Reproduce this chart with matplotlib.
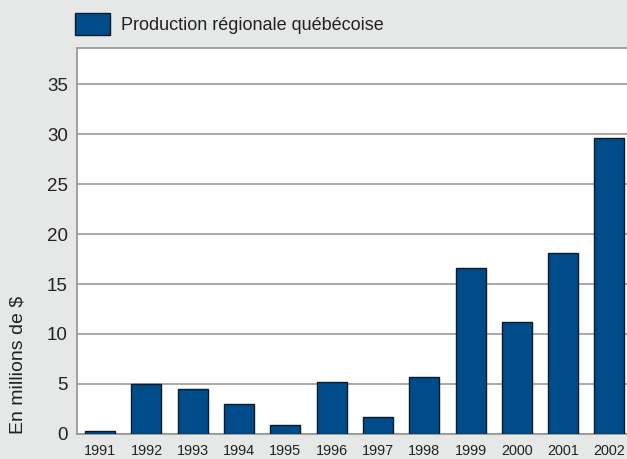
import numpy as np
import matplotlib.pyplot as plt

plt.rcParams['font.family'] = ['Liberation Sans', 'DejaVu Sans']

years = ['1991', '1992', '1993', '1994', '1995', '1996',
         '1997', '1998', '1999', '2000', '2001', '2002']
values = [0.33, 5.0, 4.47, 3.0, 0.9, 5.2, 1.7, 5.7, 16.6, 11.2, 18.1, 29.6]
yticks = [0, 5, 10, 15, 20, 25, 30, 35]
label = 'Production régionale québécoise'

bg = '#e6e7e7'
blue = '#004c8a'

W, H = 627, 459
fig = plt.figure(figsize=(W / 100, H / 100), dpi=100, facecolor=bg)
ax = fig.add_axes([77 / W, 1 - 434 / H, 555.6 / W, (434 - 48) / H])
ax.set_facecolor('white')

x = np.arange(len(years))
ax.bar(x, values, width=0.65, color=blue, edgecolor='#0a1a2a', linewidth=1.0,
       zorder=3, label=label)

ax.set_xlim(-0.5, 11.5)
ax.set_ylim(0, 38.6)
ax.set_yticks(yticks)
ax.set_xticks(x)
ax.set_xticklabels(years, fontsize=10.4, color='#222222')
ax.tick_params(axis='y', labelsize=13.5, labelcolor='#222222', length=0, pad=6.5)
ax.tick_params(axis='x', length=0, pad=7)
ax.yaxis.grid(True, color='#999999', linewidth=1.2, zorder=0)

for s in ['left', 'top', 'bottom']:
    ax.spines[s].set_color('#999999')
    ax.spines[s].set_linewidth(1.3)
ax.spines['right'].set_visible(False)

fig.text(18 / W, 1 - 365 / H, 'En millions de $', rotation=90,
         fontsize=14, color='#222222', ha='center', va='center')

h, l = ax.get_legend_handles_labels()
fig.legend(h, l, loc='center left', bbox_to_anchor=(75 / W, 1 - 24 / H),
           frameon=False, fontsize=13, handlelength=1.94, handleheight=1.44,
           borderpad=0, borderaxespad=0, handletextpad=0.61,
           labelcolor='#222222')

fig.savefig('out.png', dpi=100, facecolor=bg)
